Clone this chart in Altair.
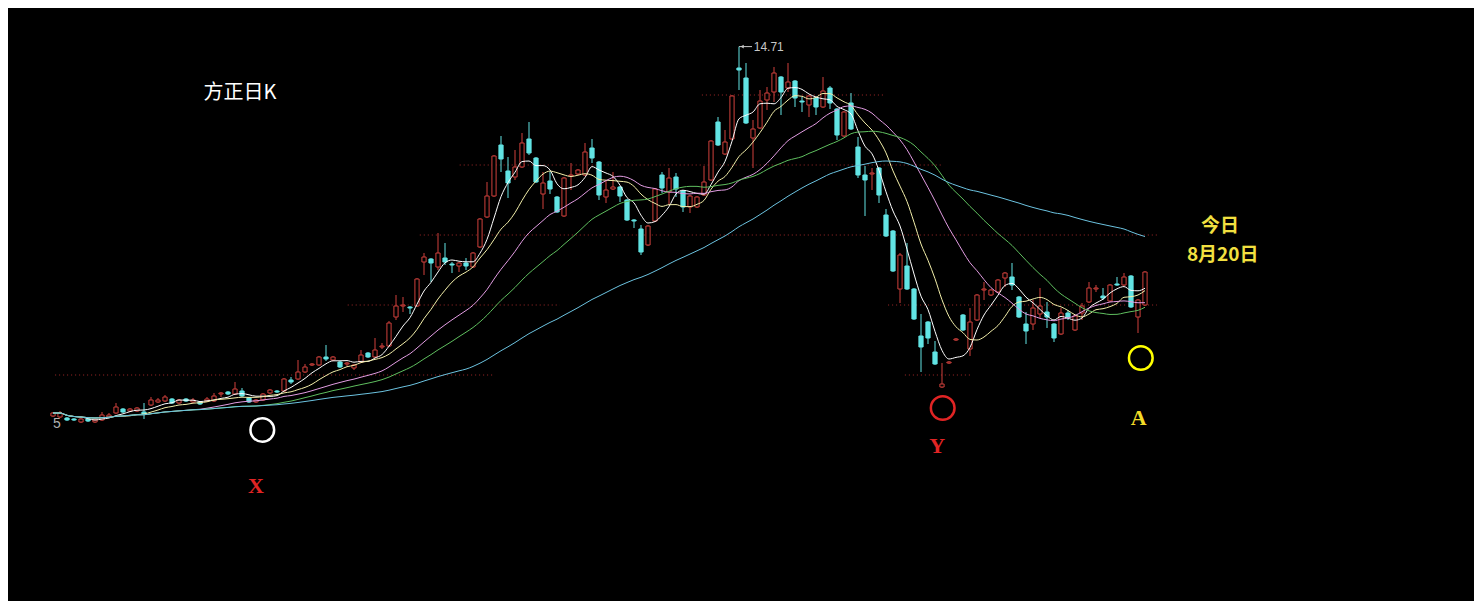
import altair as alt
import pandas as pd

# ---------------- candle data (daily K, 157 sessions) ----------------
opens = [5.475, 5.45, 5.425, 5.4, 5.325, 5.4, 5.325, 5.375, 5.45, 5.55,
         5.65, 5.6, 5.6, 5.575, 5.75, 5.825, 5.85, 5.9, 5.8, 5.9,
         5.825, 5.825, 5.85, 5.85, 6.025, 6.075, 6.025, 6.1, 5.925, 5.825,
         5.875, 6.05, 6.1, 6.1, 6.375, 6.4, 6.575, 6.75, 6.75, 6.95,
         6.875, 6.825, 6.775, 6.675, 6.825, 7.05, 6.95, 7.2, 7.225, 7.95,
         8.225, 8.2, 8.225, 9.325, 9.4, 9.2, 9.425, 9.275, 9.225, 9.3,
         9.2, 9.7, 10.45, 10.975, 12.25, 11.6, 11.45, 11.7, 12.4, 11.925,
         11.025, 11.35, 10.95, 10.475, 11.475, 11.525, 11.5, 12.175, 11.825, 10.95,
         11.15, 11.2, 10.875, 10.375, 10.15, 9.75, 10.35, 11.5, 11.075, 11.45,
         11.1, 10.7, 10.7, 11.0, 11.375, 12.825, 12.025, 12.4, 14.175, 13.925,
         12.425, 12.675, 13.375, 13.575, 13.95, 13.675, 13.85, 13.35, 13.25, 13.425,
         13.2, 13.675, 13.15, 12.475, 13.3, 12.2, 11.5, 11.525, 11.675, 10.5,
         10.1, 8.65, 9.225, 8.65, 7.475, 7.825, 7.075, 6.2, 6.8, 7.375,
         8.0, 7.15, 7.875, 8.625, 8.5, 8.575, 8.925, 8.95, 8.45, 7.775,
         7.775, 8.025, 8.075, 7.775, 7.525, 8.05, 7.625, 8.05, 8.325, 8.65,
         8.475, 8.35, 8.775, 8.75, 8.975, 7.95, 8.25]
highs = [5.575, 5.6, 5.45, 5.425, 5.425, 5.425, 5.4, 5.575, 5.55, 5.8,
         5.675, 5.675, 5.7, 5.8, 5.95, 5.925, 6.0, 5.925, 5.9, 5.925,
         5.925, 5.85, 5.95, 6.05, 6.075, 6.1, 6.325, 6.175, 5.95, 5.9,
         6.05, 6.15, 6.125, 6.425, 6.45, 6.875, 6.775, 6.8, 6.975, 7.25,
         6.975, 6.85, 6.825, 6.775, 7.125, 7.075, 7.425, 7.3, 7.85, 8.5,
         8.45, 8.225, 8.925, 9.55, 9.425, 10.05, 9.8, 9.325, 9.325, 9.425,
         9.575, 10.425, 11.325, 12.0, 12.475, 11.95, 12.125, 12.55, 12.825, 11.95,
         11.575, 11.575, 10.975, 11.45, 11.8, 11.65, 12.3, 12.4, 11.85, 11.375,
         11.575, 11.225, 10.9, 10.4, 10.25, 10.25, 11.175, 11.575, 11.675, 11.55,
         11.125, 11.0, 10.975, 11.725, 12.375, 12.95, 12.625, 13.5, 14.71, 14.3,
         12.875, 13.625, 13.7, 14.2, 13.975, 14.3, 13.875, 13.45, 13.5, 13.45,
         13.95, 13.725, 13.175, 13.1, 13.55, 12.45, 11.725, 11.675, 11.7, 10.65,
         10.125, 9.55, 9.8, 8.675, 8.025, 7.85, 7.35, 6.8, 6.85, 7.425,
         8.025, 8.175, 8.525, 8.825, 8.65, 8.9, 9.075, 9.3, 8.475, 8.075,
         8.375, 8.675, 8.325, 7.8, 8.175, 8.125, 8.0, 8.3, 8.825, 8.75,
         8.675, 8.775, 8.95, 9.05, 9.0, 8.4, 9.1]
lows = [5.45, 5.425, 5.35, 5.35, 5.3, 5.325, 5.3, 5.35, 5.425, 5.525,
        5.55, 5.575, 5.575, 5.4, 5.725, 5.8, 5.825, 5.775, 5.775, 5.825,
        5.8, 5.75, 5.825, 5.825, 5.95, 6.0, 6.0, 5.95, 5.8, 5.8,
        5.85, 6.025, 6.05, 6.075, 6.275, 6.375, 6.55, 6.725, 6.725, 6.85,
        6.85, 6.675, 6.725, 6.625, 6.8, 6.925, 6.925, 7.15, 7.2, 7.875,
        8.075, 8.025, 8.2, 9.0, 8.825, 9.125, 9.25, 9.05, 9.075, 9.125,
        9.175, 9.675, 10.425, 10.95, 11.575, 10.925, 11.375, 11.675, 12.0, 11.3,
        10.65, 11.025, 10.55, 10.45, 11.125, 11.5, 11.475, 11.8, 10.875, 10.8,
        11.125, 10.825, 10.35, 10.175, 9.5, 9.725, 10.325, 11.05, 10.75, 10.95,
        10.575, 10.55, 10.675, 10.975, 11.35, 12.225, 12.0, 12.375, 13.625, 12.775,
        11.675, 12.65, 13.125, 13.325, 13.0, 13.575, 13.2, 13.075, 12.95, 13.0,
        13.175, 13.15, 12.375, 12.45, 12.625, 11.425, 10.475, 11.125, 10.8, 9.95,
        9.075, 8.3, 8.625, 7.875, 6.575, 7.275, 6.75, 6.175, 6.775, 7.35,
        7.6, 6.975, 7.85, 8.375, 8.475, 8.55, 8.7, 8.625, 7.925, 7.275,
        7.625, 7.925, 7.675, 7.325, 7.5, 7.875, 7.6, 7.875, 8.3, 8.575,
        8.375, 8.325, 8.725, 8.725, 8.175, 7.55, 8.225]
closes = [5.55, 5.55, 5.375, 5.375, 5.4, 5.35, 5.375, 5.5, 5.5, 5.7,
          5.575, 5.65, 5.675, 5.525, 5.875, 5.875, 5.95, 5.8, 5.875, 5.85,
          5.875, 5.775, 5.9, 5.975, 6.05, 6.025, 6.15, 5.975, 5.825, 5.875,
          6.025, 6.125, 6.075, 6.4, 6.325, 6.575, 6.7, 6.775, 6.95, 6.9,
          6.95, 6.7, 6.8, 6.75, 7.0, 6.95, 7.125, 7.225, 7.8, 8.225,
          8.25, 8.175, 8.9, 9.45, 9.3, 9.55, 9.325, 9.25, 9.3, 9.225,
          9.55, 10.4, 10.975, 11.975, 11.9, 11.3, 11.7, 12.3, 12.05, 11.325,
          11.3, 11.15, 10.575, 11.425, 11.5, 11.625, 12.075, 11.925, 11.0, 11.125,
          11.2, 10.975, 10.375, 10.35, 9.575, 10.225, 11.15, 11.175, 11.425, 11.15,
          10.7, 10.975, 10.95, 11.325, 12.35, 12.25, 12.325, 13.475, 14.125, 12.8,
          12.65, 13.35, 13.55, 14.05, 13.575, 13.825, 13.425, 13.325, 13.475, 13.2,
          13.6, 13.3, 12.5, 13.075, 12.65, 11.5, 11.375, 11.55, 11.0, 9.975,
          9.1, 9.5, 8.65, 7.9, 7.2, 7.425, 6.775, 6.275, 6.825, 7.4,
          7.625, 7.825, 8.5, 8.65, 8.625, 8.875, 9.05, 8.75, 7.95, 7.6,
          8.175, 8.225, 7.95, 7.425, 8.05, 7.95, 7.975, 8.225, 8.675, 8.675,
          8.425, 8.75, 8.75, 8.95, 8.2, 8.375, 9.075]

# moving-average settings and colours
ma_periods = [5, 10, 20, 30, 60]
ma_colors = ["#ffffff", "#f3efaa", "#e39de3", "#5fbf5f", "#6cc3e0"]

# dotted reference levels (price, first session, last session)
grid_levels = [13.5, 11.75, 10.0, 8.25, 8.25, 6.5, 6.5]
grid_from = [92.7, 58.1, 52.4, 42.1, 119.3, 0.3, 121.7]
grid_to = [118.6, 127.1, 157.7, 72.4, 157.7, 63.1, 131.0]

UP = "#d0403c"
DOWN = "#62e4e4"

# ---------------- build tables ----------------
n = len(closes)
df = pd.DataFrame({"i": list(range(n)), "open": opens, "high": highs,
                   "low": lows, "close": closes})
df["up"] = df["close"] >= df["open"]
df["xl"] = df["i"] - 0.3
df["xr"] = df["i"] + 0.3
for per in ma_periods:
    df[f"MA{per}"] = df["close"].rolling(per, min_periods=1).mean()

grid_df = pd.DataFrame({"p": grid_levels, "a": grid_from, "b": grid_to})

X = alt.Scale(domain=[-6.43, 203.0], nice=False, zero=False)
Y = alt.Scale(domain=[0.85, 15.675], nice=False, zero=False)

def xq(f):
    return alt.X(f, type="quantitative", scale=X, axis=None)

def yq(f):
    return alt.Y(f, type="quantitative", scale=Y, axis=None)

grid = alt.Chart(grid_df).mark_rule(color="#a02828", strokeDash=[1, 3], strokeWidth=1).encode(
    x=xq("a"), x2="b", y=yq("p"))

base = alt.Chart(df)
color_enc = alt.Color("up:N", scale=alt.Scale(domain=[True, False], range=[UP, DOWN]), legend=None)

wicks = base.mark_rule(strokeWidth=1).encode(x=xq("i"), y=yq("low"), y2="high", color=color_enc)

up_bodies = base.transform_filter("datum.up").mark_rect(fill="black", stroke=UP, strokeWidth=1).encode(
    x=xq("xl"), x2="xr", y=yq("open"), y2="close")
down_bodies = base.transform_filter("!datum.up").mark_rect(fill=DOWN, stroke=DOWN, strokeWidth=1).encode(
    x=xq("xl"), x2="xr", y=yq("open"), y2="close")

ma_layers = []
for per, col in zip(ma_periods, ma_colors):
    ma_layers.append(base.mark_line(color=col, strokeWidth=1, interpolate="monotone").encode(
        x=xq("i"), y=yq(f"MA{per}")))

# ---------------- annotations ----------------
hi_idx = int(df["high"].idxmax())
hi_val = float(df["high"].max())
hi_df = pd.DataFrame({"a": [hi_idx], "b": [hi_idx + 1.86], "p": [hi_val],
                      "t": [f"{hi_val:.2f}"], "tx": [hi_idx + 2.1]})
hi_rule = alt.Chart(hi_df).mark_rule(color="#c8c8c8", strokeWidth=1).encode(x=xq("a"), x2="b", y=yq("p"))
hi_arrow = alt.Chart(hi_df).mark_point(shape="triangle-left", filled=True, color="#c8c8c8", size=14, opacity=1).encode(
    x=alt.X("a2:Q", scale=X, axis=None), y=yq("p")).transform_calculate(a2="datum.a + 0.45")
hi_text = alt.Chart(hi_df).mark_text(color="#c8c8c8", fontSize=12, font="Liberation Sans", align="left",
                                     baseline="middle").encode(x=xq("tx"), y=yq("p"), text="t:N")

low_df = pd.DataFrame({"i": [0.57], "p": [5.275], "t": ["5"]})
low_text = alt.Chart(low_df).mark_text(color="#b0b0b0", fontSize=14, font="Liberation Sans",
                                       align="center", baseline="middle").encode(x=xq("i"), y=yq("p"), text="t:N")

title_df = pd.DataFrame({"i": [26.7], "p": [13.55], "t": ["方正日K"]})
title = alt.Chart(title_df).mark_text(color="white", fontSize=20, font="Noto Sans CJK SC",
                                      align="center", baseline="middle").encode(x=xq("i"), y=yq("p"), text="t:N")

circ_df = pd.DataFrame({"i": [29.9, 127.1, 155.4], "p": [5.125, 5.675, 6.925],
                        "c": ["#ffffff", "#e02424", "#ffff00"]})
circles = alt.Chart(circ_df).mark_point(shape="circle", filled=False, size=560, strokeWidth=2.5, opacity=1).encode(
    x=xq("i"), y=yq("p"), color=alt.Color("c:N", scale=None))

lab_df = pd.DataFrame({"i": [29.0, 126.3, 155.1], "p": [3.725, 4.725, 5.425],
                       "t": ["X", "Y", "A"], "c": ["#e02424", "#e02424", "#f2dc28"]})
letters = alt.Chart(lab_df).mark_text(fontSize=22, font="Liberation Serif", fontWeight="bold",
                                      align="center", baseline="middle").encode(
    x=xq("i"), y=yq("p"), text="t:N", color=alt.Color("c:N", scale=None))

today_df = pd.DataFrame({"i": [166.7, 167.1], "p": [10.225, 9.5], "t": ["今日", "8月20日"]})
today = alt.Chart(today_df).mark_text(color="#f2e040", fontSize=19, font="Noto Sans CJK SC", fontWeight="bold",
                                      align="center", baseline="middle").encode(x=xq("i"), y=yq("p"), text="t:N")

chart = alt.layer(grid, wicks, up_bodies, down_bodies, *ma_layers, hi_rule, hi_arrow, hi_text,
                  low_text, title, circles, letters, today).properties(
    width=1466, height=593, background="black", padding=0,
    autosize=alt.AutoSizeParams(type="none")
).configure_view(stroke=None)

chart.save("out.html", embed_options={"renderer": "svg", "actions": False})
